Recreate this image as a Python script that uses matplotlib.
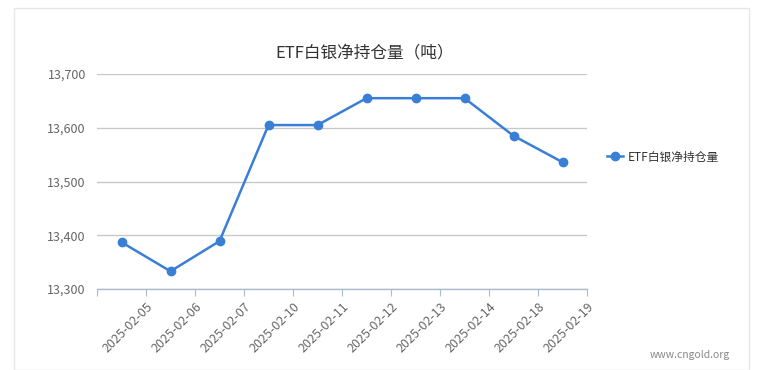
import matplotlib
matplotlib.use("Agg")
import matplotlib.pyplot as plt
from matplotlib.patches import Rectangle
from matplotlib.ticker import FuncFormatter
import numpy as np

dates = ["2025-02-05", "2025-02-06", "2025-02-07", "2025-02-10", "2025-02-11",
         "2025-02-12", "2025-02-13", "2025-02-14", "2025-02-18", "2025-02-19"]
holdings = [13387, 13333, 13389, 13605, 13605, 13655, 13655, 13655, 13585, 13536]
y_ticks = [13300, 13400, 13500, 13600, 13700]

plt.rcParams["font.family"] = ["Noto Sans CJK SC", "DejaVu Sans"]

line_color = "#3a7fd6"
text_color = "#666666"

fig = plt.figure(figsize=(7.57, 3.70), dpi=100)
# light frame around the chart
fig.patches.append(Rectangle((14 / 757, 0), 735 / 757, 1 - 8 / 370, transform=fig.transFigure,
                             fill=False, edgecolor="#e6e6e6", linewidth=1))

ax = fig.add_axes([97 / 757, 1 - 289 / 370, 490 / 757, 215 / 370])

x = np.arange(len(dates))
ax.plot(x, holdings, color=line_color, linewidth=1.8, marker="o", markersize=6,
        label="ETF白银净持仓量", zorder=3)

ax.set_xlim(-0.5, len(dates) - 0.5)
ax.set_ylim(13300, 13700)
ax.set_yticks(y_ticks)
ax.yaxis.set_major_formatter(FuncFormatter(lambda v, p: f"{int(v):,}"))
ax.grid(axis="y", color="#c8c8c8", linewidth=1)
ax.set_axisbelow(True)

# ticks on the band boundaries, labels sit at the right edge of each band
ax.set_xticks(np.arange(-0.5, len(dates)))
ax.set_xticklabels([""] + dates, rotation=45, ha="right", rotation_mode="anchor")
ax.tick_params(axis="x", length=5, color="#a9bcd0", labelsize=9, labelcolor=text_color, pad=3)
ax.tick_params(axis="y", length=0, labelsize=9, labelcolor=text_color, pad=8)

for side in ["top", "right", "left"]:
    ax.spines[side].set_visible(False)
ax.spines["bottom"].set_color("#a9bcd0")
ax.spines["bottom"].set_linewidth(1)

fig.text(365 / 757, 1 - 54 / 370, "ETF白银净持仓量（吨）", ha="center", va="center",
         fontsize=12, color="#333333")

ax.legend(loc="center left", bbox_to_anchor=(596 / 757, 1 - 157 / 370), bbox_transform=fig.transFigure,
          frameon=False, fontsize=8.5, handlelength=1.4, handletextpad=0.4, labelcolor="#333333")

fig.text(730 / 757, 1 - 355 / 370, "www.cngold.org", ha="right", va="center",
         fontsize=7.5, color="#888888")

fig.savefig("out.png", dpi=100)
